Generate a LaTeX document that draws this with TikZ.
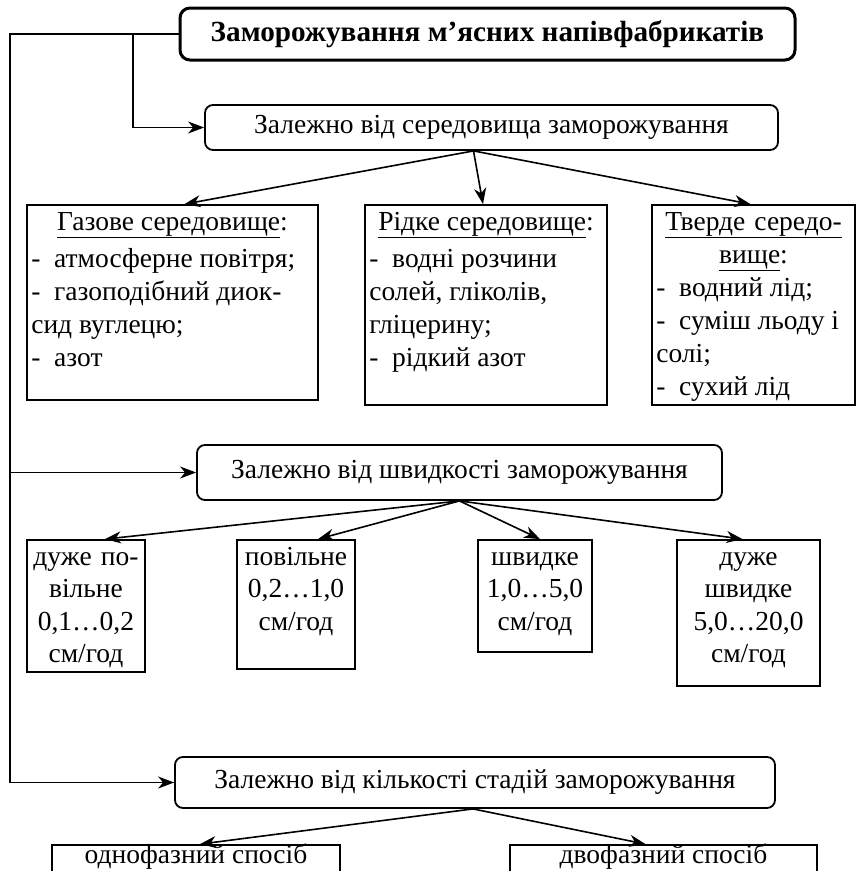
\documentclass[tikz,border=0pt]{standalone}
\usepackage{fontspec}
\setmainfont{Liberation Serif}
\usetikzlibrary{arrows.meta,positioning}

\begin{document}
\begin{tikzpicture}[x=1pt,y=-1pt,
  box/.style={shape=rectangle,draw=black,line width=1.8pt,inner sep=0pt},
  roundbox/.style={box,rounded corners=8pt},
  txt/.style={inner sep=0pt,font=\fontsize{27.5}{33}\selectfont},
  speedtxt/.style={txt,font=\fontsize{27.5}{32.5}\selectfont,align=center,anchor=base},
  arr/.style={-{Stealth[length=16pt,width=12pt,inset=5pt]},draw=black,line width=1.6pt}]
\clip (0,0) rectangle (863,871);
\fill[white] (0,0) rectangle (863,871);
\node[roundbox,line width=3pt,rounded corners=10pt,minimum width=615,minimum height=52,txt,font=\bfseries\fontsize{29.2}{33}\selectfont] (0) at (487.5,34) {Заморожування м’ясних напівфабрикатів};
\node[roundbox,minimum width=573,minimum height=45,txt] (1) at (491.5,127.5) {Залежно від середовища заморожування};
\node[box,minimum width=291,minimum height=195] (2) at (172.5,302.5) {};
\node[box,minimum width=242,minimum height=200] (3) at (486,305) {};
\node[box,minimum width=203,minimum height=200] (4) at (753.5,305) {};
\node[roundbox,minimum width=525,minimum height=55,txt] (5) at (459.5,472.5) {Залежно від швидкості заморожування};
\node[box,minimum width=118,minimum height=132] (6) at (86,606) {};
\node[box,minimum width=118,minimum height=129] (7) at (296,604.5) {};
\node[box,minimum width=114,minimum height=112] (8) at (535,596) {};
\node[box,minimum width=143,minimum height=146] (9) at (748.5,613) {};
\node[roundbox,minimum width=600,minimum height=51,txt] (10) at (475,782.5) {Залежно від кількості стадій заморожування};
\node[box,minimum width=288,minimum height=60] (11) at (196,875) {};
\node[box,minimum width=307,minimum height=60] (12) at (663.5,875) {};

% box texts
\node[txt,anchor=base] (2a) at ([yshift=-26pt]2.north) {\underline{Газове середовище}:};
\node[txt,text width=285,align=flush left,anchor=base west] (2b) at ([xshift=5pt,yshift=-63pt]2.north west) {-\ \ атмосферне повітря;\\-\ \ газоподібний диок-\\сид вуглецю;\\-\ \ азот};
\node[txt,anchor=base] (3a) at ([yshift=-26pt]3.north) {\underline{Рідке середовище}:};
\node[txt,text width=236,align=flush left,anchor=base west] (3b) at ([xshift=5pt,yshift=-63pt]3.north west) {-\ \ водні розчини\\солей, гліколів,\\гліцерину;\\-\ \ рідкий азот};
\node[txt,text width=200,align=center,anchor=base] (4a) at ([yshift=-26pt]4.north) {\underline{Тверде середо-}\\\underline{вище}:};
\node[txt,text width=198,align=flush left,anchor=base west] (4b) at ([xshift=5pt,yshift=-92pt]4.north west) {-\ \ водний лід;\\-\ \ суміш льоду і\\солі;\\-\ \ сухий лід};
\node[speedtxt,text width=118] (6a) at ([yshift=-26pt]6.north) {дуже по-\\вільне\\0,1…0,2\\см/год};
\node[speedtxt,text width=118] (7a) at ([yshift=-26pt]7.north) {повільне\\0,2…1,0\\см/год};
\node[speedtxt,text width=114] (8a) at ([yshift=-26pt]8.north) {швидке\\1,0…5,0\\см/год};
\node[speedtxt,text width=143] (9a) at ([yshift=-26pt]9.north) {дуже\\швидке\\5,0…20,0\\см/год};
\node[txt,anchor=base] (11a) at ([yshift=-19pt]11.north) {однофазний спосіб};
\node[txt,anchor=base] (12a) at ([yshift=-19pt]12.north) {двофазний спосіб};

% connectors
\coordinate (c0) at (10,34);
\coordinate (c1) at (133,34);
\draw[line width=1.6pt] (0.west) -- (c0) |- (10.west);
\draw[arr] (c1) |- (1.west);
\draw[arr] (c0) |- (5.west);
\draw[arr] (c0) |- (10.west);
\draw[arr] ([xshift=-18pt]1.south) -- ([xshift=12pt]2.north);
\draw[arr] ([xshift=-18pt]1.south) -- ([xshift=-3pt]3.north);
\draw[arr] ([xshift=-18pt]1.south) -- ([xshift=-3pt]4.north);
\draw[arr] (5.south) -- ([xshift=19pt]6.north);
\draw[arr] (5.south) -- ([xshift=22pt]7.north);
\draw[arr] (5.south) -- ([xshift=5pt]8.north);
\draw[arr] (5.south) -- ([xshift=-6pt]9.north);
\draw[arr] ([xshift=-2pt]10.south) -- ([xshift=4pt]11.north);
\draw[arr] ([xshift=-2pt]10.south) -- ([xshift=-18pt]12.north);
\end{tikzpicture}
\end{document}
